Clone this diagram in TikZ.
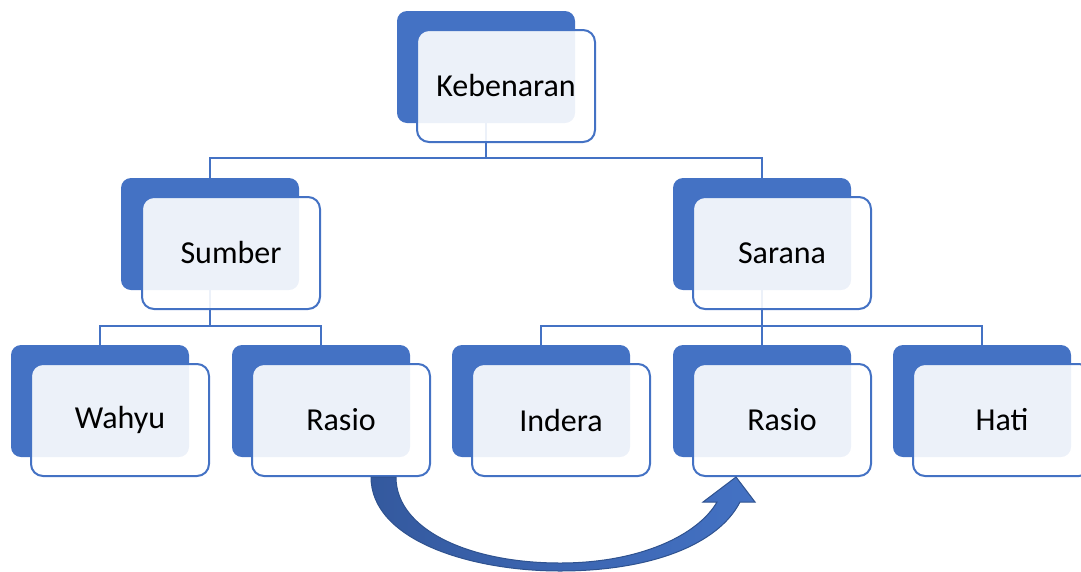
\documentclass[tikz,border=0pt]{standalone}
\usepackage{fontspec}
\setmainfont{Carlito}
\definecolor{acc}{HTML}{4472C4}
\definecolor{accdark}{HTML}{2F528F}
\definecolor{arrowleft}{HTML}{34599E}
\begin{document}
\begin{tikzpicture}[x=1pt,y=-1pt,
  back/.style={fill=acc, rounded corners=10pt, minimum width=178pt,
    minimum height=112pt, inner sep=0pt},
  front/.style={draw=acc, line width=2pt, fill=white, fill opacity=0.9,
    text opacity=1, rounded corners=12pt, minimum width=178pt,
    minimum height=112pt, inner sep=0pt, text=black,
    font=\fontsize{32}{38}\selectfont},
  link/.style={draw=acc, line width=2pt}]
\useasboundingbox (0,0) rectangle (1081,571);
\clip (0,0) rectangle (1081,571);

% solid back plates
\node[back] (kb) at (486,67) {};
\node[back] (sb) at (210,234) {};
\node[back] (nb) at (762,234) {};
\node[back] (wb) at (100,401) {};
\node[back] (r1b) at (321,401) {};
\node[back] (ib) at (541,401) {};
\node[back] (r2b) at (762,401) {};
\node[back] (hb) at (982,401) {};

% tree connectors
\draw[link] (kb.south) -- ++(0,35) -| (sb.north);
\draw[link] (kb.south) ++(0,35) -| (nb.north);
\draw[link] (sb.south) -- ++(0,36) -| (wb.north);
\draw[link] (sb.south) ++(0,36) -| (r1b.north);
\draw[link] (nb.south) -- ++(0,36) -| (ib.north);
\draw[link] (nb.south) ++(0,36) -| (r2b.north);
\draw[link] (nb.south) ++(0,36) -| (hb.north);

% light framed cards with labels
\node[front] (k) at (506,86) {Kebenaran};
\node[front] (s) at (231,253) {Sumber};
\node[front] (n) at (782,253) {Sarana};
\node[front] (w) at (120,420) {Wahyu};
\node[front] (r1) at (341,420) {Rasio};
\node[front] (i) at (561,420) {Indera};
\node[front] (r2) at (782,420) {Rasio};
\node[front] (h) at (1002,420) {Hati};

% curved block arrow from the first Rasio to the second
\draw[draw=accdark, line width=1pt, left color=arrowleft, right color=acc,
      line join=miter]
  (371,477) .. controls (371,540) and (470,571) .. (560,571)
  .. controls (650,571) and (718,545) .. (740,502)
  -- (755,502) -- (736,477) -- (703,502) -- (717,502)
  .. controls (698,535) and (640,563) .. (560,563)
  .. controls (470,563) and (396,530) .. (396,477) -- cycle;
\end{tikzpicture}
\end{document}
